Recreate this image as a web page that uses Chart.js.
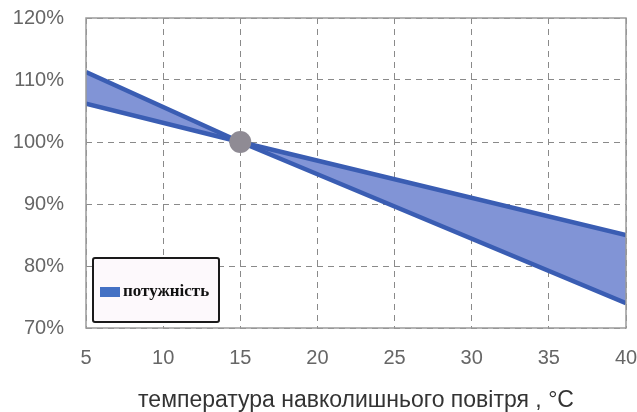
<!DOCTYPE html>
<html>
<head>
<meta charset="utf-8">
<script src="https://cdn.jsdelivr.net/npm/chart.js@4/dist/chart.umd.min.js"></script>
<style>
html,body{margin:0;padding:0;background:#fff;}
#wrap{width:637px;height:412px;position:relative;}
</style>
</head>
<body>
<div id="wrap"><canvas id="c" width="637" height="412"></canvas></div>
<script>
// Data
const temps = [5, 15, 40];
const lineA = [111.3, 100, 74];   // steeper line
const lineB = [106.2, 100, 85];   // flatter line
const refPoint = {x: 15, y: 100};
const xTicks = [5, 10, 15, 20, 25, 30, 35, 40];
const yTicks = [70, 80, 90, 100, 110, 120];
const legendLabel = 'потужність';
const xTitle = 'температура навколишнього повітря , °C';

const ptsA = temps.map((t, i) => ({x: t, y: lineA[i]}));
const ptsB = temps.map((t, i) => ({x: t, y: lineB[i]}));

const frame = {
  id: 'frame',
  afterDatasetsDraw(chart) {
    const {ctx, chartArea: a} = chart;
    ctx.save();
    ctx.strokeStyle = '#9a9a9a';
    ctx.lineWidth = 1.5;
    ctx.strokeRect(a.left, a.top, a.right - a.left, a.bottom - a.top);
    ctx.restore();
  },
  afterDraw(chart) {
    const {ctx, chartArea: a} = chart;
    const x0 = a.left + 7, y1 = a.bottom - 6, w = 126, h = 64, y0 = y1 - h;
    ctx.save();
    ctx.fillStyle = '#fdf9fc';
    ctx.strokeStyle = '#1a1a1a';
    ctx.lineWidth = 2;
    ctx.beginPath();
    ctx.roundRect(x0, y0, w, h, 2);
    ctx.fill();
    ctx.stroke();
    ctx.fillStyle = '#4471c4';
    ctx.fillRect(x0 + 7, y0 + 29, 20, 10);
    ctx.fillStyle = '#111';
    ctx.font = 'bold 17px "Liberation Serif", "DejaVu Serif", serif';
    ctx.textBaseline = 'middle';
    ctx.fillText(legendLabel, x0 + 30, y0 + 34);
    ctx.restore();
  }
};

const sansFont = 'Liberation Sans, Arial, sans-serif';

new Chart(document.getElementById('c'), {
  type: 'line',
  data: {
    datasets: [
      {
        type: 'scatter',
        data: [refPoint],
        pointRadius: 11,
        pointHoverRadius: 11,
        backgroundColor: '#8f8b94',
        borderColor: '#8f8b94',
        borderWidth: 0,
        showLine: false
      },
      {
        data: ptsA,
        borderColor: '#3a5db3',
        borderWidth: 4.5,
        pointRadius: 0,
        fill: false,
        tension: 0
      },
      {
        data: ptsB,
        borderColor: '#3a5db3',
        borderWidth: 4.5,
        pointRadius: 0,
        backgroundColor: '#8194d6',
        fill: 1,
        tension: 0
      }
    ]
  },
  plugins: [frame],
  options: {
    responsive: false,
    animation: false,
    events: [],
    layout: {padding: {top: 18, right: 7, left: 0, bottom: 0}},
    plugins: {legend: {display: false}, tooltip: {enabled: false}},
    scales: {
      x: {
        type: 'linear',
        min: 5, max: 40,
        afterBuildTicks(s) { s.ticks = xTicks.map(v => ({value: v})); },
        afterFit(s) { s.height = 84; s.paddingLeft = 0; s.paddingRight = 0; },
        border: {display: false, dash: [6, 5]},
        grid: {color: '#8a8a8a', lineWidth: 1, drawTicks: false},
        ticks: {padding: 18, color: '#666', font: {family: sansFont, size: 20}},
        title: {display: true, text: xTitle, color: '#333', padding: {top: 0, bottom: 0}, font: {family: sansFont, size: 23, lineHeight: 1.0}}
      },
      y: {
        min: 70, max: 120,
        afterBuildTicks(s) { s.ticks = yTicks.map(v => ({value: v})); },
        afterFit(s) { s.width = 86; s.paddingTop = 0; s.paddingBottom = 0; },
        border: {display: false, dash: [6, 5]},
        grid: {color: '#8a8a8a', lineWidth: 1, drawTicks: false},
        ticks: {padding: 22, color: '#666', font: {family: sansFont, size: 20}, callback: v => v + '%'}
      }
    }
  }
});
</script>
</body>
</html>
